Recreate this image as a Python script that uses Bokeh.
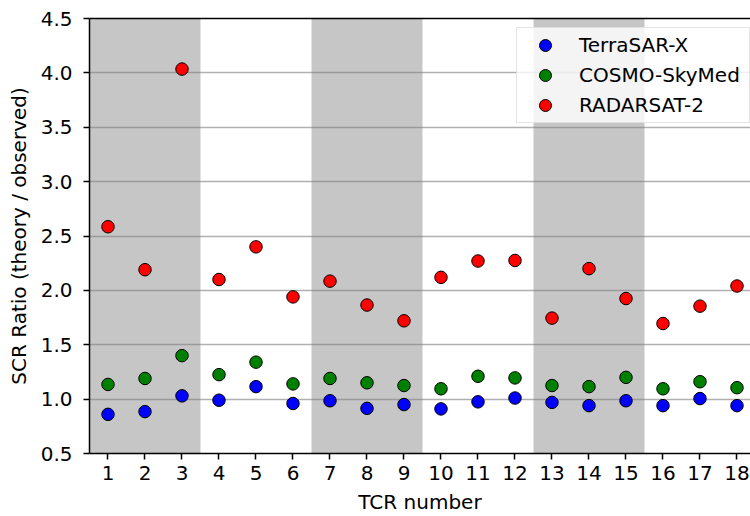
from bokeh.plotting import figure
from bokeh.models import (Range1d, FixedTicker, PrintfTickFormatter, LinearAxis,
                          Legend, LegendItem)
from bokeh.embed import file_html
from bokeh.resources import INLINE

# ---- data ----
tcr = [1, 2, 3, 4, 5, 6, 7, 8, 9, 10, 11, 12, 13, 14, 15, 16, 17, 18]
terrasar_x = [0.86, 0.885, 1.03, 0.99, 1.115, 0.96, 0.985, 0.915, 0.95,
              0.91, 0.975, 1.01, 0.97, 0.94, 0.985, 0.94, 1.005, 0.94]
cosmo_skymed = [1.135, 1.19, 1.40, 1.225, 1.34, 1.14, 1.19, 1.15, 1.125,
                1.095, 1.21, 1.195, 1.125, 1.115, 1.20, 1.095, 1.16, 1.105]
radarsat_2 = [2.585, 2.19, 4.035, 2.10, 2.40, 1.94, 2.085, 1.865, 1.72,
              2.12, 2.27, 2.275, 1.745, 2.20, 1.925, 1.695, 1.855, 2.04]
band_left = [0.5, 6.5, 12.5]
band_right = [3.5, 9.5, 15.5]
y_ticks = [0.5, 1.0, 1.5, 2.0, 2.5, 3.0, 3.5, 4.0, 4.5]
y_min, y_max = 0.5, 4.5
x_min, x_max = 0.5, 18.365

FONT = "DejaVu Sans"
FS = "20px"

p = figure(width=750, height=516,
           x_range=Range1d(x_min, x_max), y_range=Range1d(y_min, y_max),
           output_backend="svg", toolbar_location=None,
           min_border_left=89, min_border_right=0, min_border_top=18,
           min_border_bottom=62)
p.outline_line_color = None
p.background_fill_color = "white"
p.border_fill_color = "white"

p.xgrid.visible = False
p.ygrid.grid_line_color = "#b0b0b0"
p.ygrid.grid_line_width = 1.5

for ax in (p.xaxis[0], p.yaxis[0]):
    ax.axis_line_width = 1.5
    ax.axis_line_color = "black"
    ax.major_tick_line_width = 1.5
    ax.major_tick_out = 6
    ax.major_tick_in = 0
    ax.minor_tick_out = 0
    ax.minor_tick_in = 0
    ax.major_label_text_font = FONT
    ax.major_label_text_font_size = FS
    ax.major_label_text_color = "black"
    ax.axis_label_text_font = FONT
    ax.axis_label_text_font_size = FS
    ax.axis_label_text_font_style = "normal"
    ax.axis_label_text_color = "black"

p.xaxis.ticker = FixedTicker(ticks=tcr)
p.xaxis.major_label_standoff = 6
p.xaxis.axis_label = "TCR number"
p.xaxis.axis_label_standoff = 7

p.yaxis.ticker = FixedTicker(ticks=y_ticks)
p.yaxis.formatter = PrintfTickFormatter(format="%.1f")
p.yaxis.major_label_standoff = 11
p.yaxis.axis_label = "SCR Ratio (theory / observed)"
p.yaxis.axis_label_standoff = 7

# top spine
top = LinearAxis(ticker=FixedTicker(ticks=[]), major_label_text_font_size="0px",
                 major_tick_out=0, major_tick_in=0, minor_tick_out=0, minor_tick_in=0,
                 axis_line_width=1.5, axis_line_color="black")
p.add_layout(top, "above")

# shaded bands
p.quad(left=band_left, right=band_right, bottom=y_min, top=y_max,
       fill_color="gray", fill_alpha=0.45, line_color=None)

r1 = p.scatter(tcr, terrasar_x, size=12.5, fill_color="#0000ff",
               line_color="black", line_width=1)
r2 = p.scatter(tcr, cosmo_skymed, size=12.5, fill_color="#008000",
               line_color="black", line_width=1)
r3 = p.scatter(tcr, radarsat_2, size=12.5, fill_color="#ff0000",
               line_color="black", line_width=1)

legend = Legend(items=[LegendItem(label="TerraSAR-X", renderers=[r1]),
                       LegendItem(label="COSMO-SkyMed", renderers=[r2]),
                       LegendItem(label="RADARSAT-2", renderers=[r3])],
                location=(427, 330), padding=2, margin=0,
                glyph_width=52, glyph_height=30, spacing=0,
                label_standoff=8, label_width=168,
                label_text_font=FONT, label_text_font_size=FS,
                label_text_color="black",
                background_fill_color="white", background_fill_alpha=0.8,
                border_line_color="#cccccc", border_line_width=1.2)
p.add_layout(legend)

open("out.html", "w").write(file_html(p, INLINE))
